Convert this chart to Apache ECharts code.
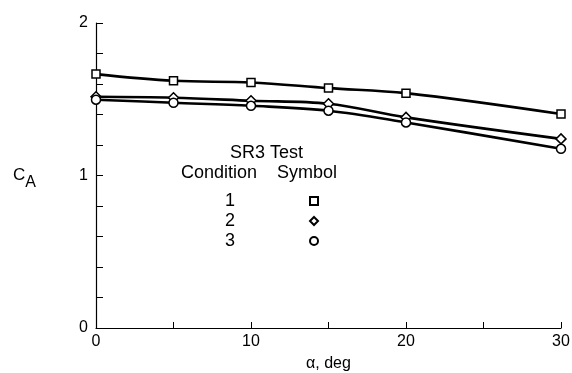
<!DOCTYPE html>
<html><head><meta charset="utf-8">
<script src="https://cdn.jsdelivr.net/npm/echarts@6/dist/echarts.min.js"></script>
<style>html,body{margin:0;padding:0;background:#fff}#c{width:572px;height:373px}</style>
</head><body><div id="c"></div>
<script>
const alpha = [0, 5, 10, 15, 20, 30];
const cond1 = [1.665, 1.621, 1.61, 1.573, 1.54, 1.403];
const cond2 = [1.516, 1.51, 1.49, 1.47, 1.381, 1.24];
const cond3 = [1.497, 1.477, 1.457, 1.425, 1.348, 1.175];
const xLabels = [0, 10, 20, 30];
const yLabels = [0, 1, 2];
const names = ['1', '2', '3'];
const symbols = ['rect', 'diamond', 'circle'];
const font = '"Liberation Sans", Arial, sans-serif';

const chart = echarts.init(document.getElementById('c'));
const mk = (name, vals, sym, size) => ({
  name, type: 'line', smooth: 0.35,
  data: alpha.map((a, i) => [a, vals[i]]),
  symbol: sym, symbolSize: size,
  lineStyle: {color: '#000', width: 2.6},
  itemStyle: {color: '#fff', borderColor: '#000', borderWidth: 1.5},
  z: 3
});
chart.setOption({
  animation: false,
  backgroundColor: '#fff',
  grid: {left: 96, right: 11, top: 23, bottom: 45, containLabel: false, outerBoundsMode: 'none'},
  xAxis: {
    type: 'value', min: 0, max: 30, interval: 5,
    axisLine: {lineStyle: {color: '#000', width: 1.2}},
    axisTick: {inside: true, length: 6, lineStyle: {color: '#000'}},
    splitLine: {show: false},
    axisLabel: {color: '#000', fontFamily: font, fontSize: 16, margin: 6,
      formatter: v => xLabels.includes(v) ? String(v) : ''},
    name: 'α, deg', nameLocation: 'middle', nameGap: 28,
    nameTextStyle: {color: '#000', fontFamily: font, fontSize: 16}
  },
  yAxis: {
    type: 'value', min: 0, max: 2, interval: 0.2,
    axisLine: {lineStyle: {color: '#000', width: 1.2}},
    axisTick: {inside: true, length: 7, lineStyle: {color: '#000'}},
    splitLine: {show: false},
    axisLabel: {color: '#000', fontFamily: font, fontSize: 16, margin: 8,
      formatter: v => yLabels.some(l => Math.abs(l - v) < 1e-6) ? String(Math.round(v)) : ''},
    name: '{c|C}{s|A}', nameLocation: 'middle', nameGap: 60, nameRotate: 0,
    nameTextStyle: {rich: {c: {fontFamily: font, fontSize: 17, color: '#000'},
      s: {fontFamily: font, fontSize: 16, color: '#000', verticalAlign: 'bottom', padding: [14, 0, 0, 0]}}}
  },
  legend: {
    data: names.map((n, i) => ({name: n, icon: symbols[i]})),
    orient: 'vertical', left: 220, top: 187, align: 'right',
    itemWidth: 8, itemHeight: 8, itemGap: 2,
    textStyle: {color: '#000', fontFamily: font, fontSize: 18, padding: [0, 70, 0, 0]},
    inactiveColor: '#000'
  },
  graphic: [
    {type: 'text', left: 230, top: 144, style: {text: 'SR3 Test', font: '18px ' + font, fill: '#000'}},
    {type: 'text', left: 181, top: 164, style: {text: 'Condition', font: '18px ' + font, fill: '#000'}},
    {type: 'text', left: 277, top: 164, style: {text: 'Symbol', font: '18px ' + font, fill: '#000'}}
  ],
  series: [mk('1', cond1, 'rect', 8), mk('2', cond2, 'diamond', 10), mk('3', cond3, 'circle', 9)]
});
</script></body></html>
